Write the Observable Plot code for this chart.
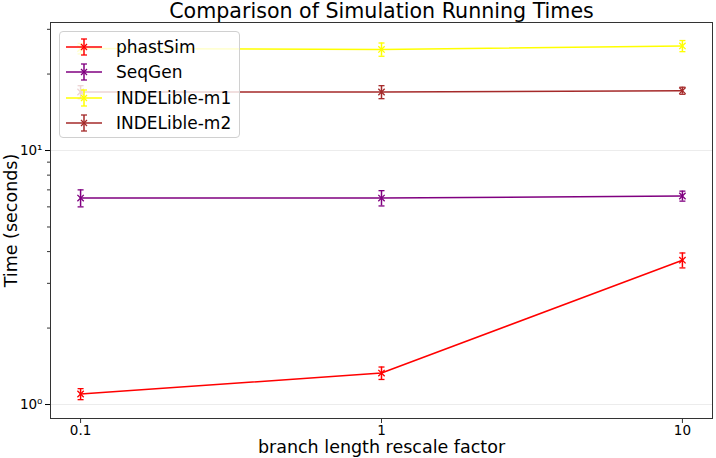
<!DOCTYPE html>
<html>
<head>
<meta charset="utf-8">
<script src="https://cdn.jsdelivr.net/npm/d3@7"></script>
<script src="https://cdn.jsdelivr.net/npm/@observablehq/plot@0.6"></script>
<style>
  body { margin: 0; background: #fff; font-family: "DejaVu Sans", sans-serif; }
  #wrap { position: relative; width: 716px; height: 458px; }
  #legend { position: absolute; left: 59px; top: 31px; width: 181px; height: 107px;
    border: 1px solid #d0d0d0; border-radius: 4px; background: rgba(255,255,255,0.8); box-sizing: border-box; }
  .item { position: absolute; left: 0; height: 24px; display: flex; align-items: center; }
  .item svg { margin-left: 5px; }
  .item span { margin-left: 13px; font-size: 17px; color: #000; }
</style>
</head>
<body>
<div id="wrap"></div>
<script>
const factors = [0.1, 1, 10];
const seriesNames = ["phastSim", "SeqGen", "INDELible-m1", "INDELible-m2"];
const seriesColors = ["#ff0000", "#800080", "#ffff00", "#a52a2a"];
const phastSim = [1.10, 1.33, 3.70];
const phastSimErr = [0.055, 0.075, 0.25];
const seqGen = [6.50, 6.50, 6.62];
const seqGenErr = [0.50, 0.45, 0.30];
const indelM1 = [25.2, 25.0, 25.8];
const indelM1Err = [1.2, 1.5, 1.3];
const indelM2 = [17.0, 17.0, 17.2];
const indelM2Err = [1.0, 1.0, 0.55];
const xTicks = [0.1, 1, 10];
const yTicks = [1, 10];
const yTickLabels = ["10\u2070", "10\u00b9"];
const yMinorTicks = [2, 3, 4, 5, 6, 7, 8, 9, 20, 30];

const values = [phastSim, seqGen, indelM1, indelM2];
const errs = [phastSimErr, seqGenErr, indelM1Err, indelM2Err];
const data = [];
seriesNames.forEach((s, i) => factors.forEach((f, j) => data.push({
  series: s, x: f, y: values[i][j], lo: values[i][j] - errs[i][j], hi: values[i][j] + errs[i][j]
})));

const capSymbol = { draw(ctx, size) { const w = Math.sqrt(size / Math.PI); ctx.moveTo(-w, 0); ctx.lineTo(w, 0); } };
const color = { domain: seriesNames, range: seriesColors };

const plot = Plot.plot({
  width: 716, height: 458,
  marginLeft: 50, marginRight: 4, marginTop: 22, marginBottom: 40,
  style: { fontFamily: "DejaVu Sans, sans-serif", background: "#fff" },
  x: { type: "log", domain: [Math.pow(10, -1.1), Math.pow(10, 1.1)] },
  y: { type: "log", domain: [Math.pow(10, -0.055), Math.pow(10, 1.504)] },
  color,
  marks: [
    Plot.ruleY(yTicks, { stroke: "#e6e6e6", strokeWidth: 0.8 }),
    Plot.axisX({ ticks: xTicks, tickFormat: d => String(d), tickSize: 5, fontSize: 13.5, tickPadding: 2, label: null, stroke: "#333", color: "#000" }),
    Plot.axisY({ ticks: yTicks, tickFormat: (d, i) => yTickLabels[yTicks.indexOf(d)], tickSize: 5, fontSize: 13.5, tickPadding: 3, label: null, color: "#000" }),
    Plot.axisY({ ticks: yMinorTicks, tickFormat: () => "", tickSize: 3, label: null, strokeOpacity: 0.8 }),
    Plot.line(data, { x: "x", y: "y", z: "series", stroke: "series", strokeWidth: 1.5 }),
    Plot.ruleX(data, { x: "x", y1: "lo", y2: "hi", stroke: "series", strokeWidth: 1.5 }),
    Plot.dot(data, { x: "x", y: "lo", stroke: "series", symbol: capSymbol, r: 3, strokeWidth: 1.3 }),
    Plot.dot(data, { x: "x", y: "hi", stroke: "series", symbol: capSymbol, r: 3, strokeWidth: 1.3 }),
    Plot.dot(data, { x: "x", y: "y", stroke: "series", symbol: "times", r: 3, strokeWidth: 1.3 }),
    Plot.frame({ stroke: "#333", strokeWidth: 1 }),
    Plot.text(["Comparison of Simulation Running Times"], { frameAnchor: "top", dy: -11, lineAnchor: "middle", fontSize: 20.6, fill: "#000" }),
    Plot.text(["branch length rescale factor"], { frameAnchor: "bottom", dy: 29, lineAnchor: "middle", fontSize: 17.5, fill: "#000" }),
    Plot.text(["Time (seconds)"], { frameAnchor: "left", dx: -39, rotate: -90, lineAnchor: "middle", textAnchor: "middle", fontSize: 17.5, fill: "#000" })
  ]
});

const wrap = document.getElementById("wrap");
wrap.appendChild(plot);

const legend = document.createElement("div");
legend.id = "legend";
seriesNames.forEach((s, i) => {
  const item = document.createElement("div");
  item.className = "item";
  item.style.top = (3 + i * 25.3) + "px";
  const c = seriesColors[i];
  item.innerHTML = `<svg width="38" height="24"><line x1="1" y1="12" x2="37" y2="12" stroke="${c}" stroke-width="1.5"/>` +
    `<line x1="19" y1="4" x2="19" y2="20" stroke="${c}" stroke-width="1.5"/>` +
    `<line x1="16" y1="4" x2="22" y2="4" stroke="${c}" stroke-width="1.3"/>` +
    `<line x1="16" y1="20" x2="22" y2="20" stroke="${c}" stroke-width="1.3"/>` +
    `<path d="M16,9L22,15M16,15L22,9" stroke="${c}" stroke-width="1.3"/></svg><span>${s}</span>`;
  legend.appendChild(item);
});
wrap.appendChild(legend);
</script>
</body>
</html>
